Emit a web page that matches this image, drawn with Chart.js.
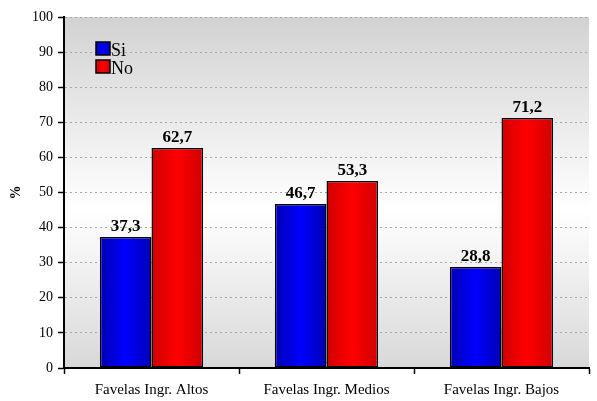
<!DOCTYPE html>
<html>
<head>
<meta charset="utf-8">
<script src="https://cdn.jsdelivr.net/npm/chart.js@4/dist/chart.umd.min.js"></script>
<style>
  html, body { margin: 0; padding: 0; background: #fff; }
  #wrap { width: 597px; height: 401px; }
</style>
</head>
<body>
<div id="wrap"><canvas id="c" width="597" height="401"></canvas></div>
<script>
const categories = ["Favelas Ingr. Altos", "Favelas Ingr. Medios", "Favelas Ingr. Bajos"];
const siValues = [37.3, 46.7, 28.8];
const noValues = [62.7, 53.3, 71.2];
const yTicks = [0, 10, 20, 30, 40, 50, 60, 70, 80, 90, 100];

const serif = "'Liberation Serif', 'Times New Roman', serif";

// shaded plot background, grey at top and bottom, white in the middle
const plotBg = {
    id: "plotBg",
    beforeDraw(chart) {
        const a = chart.chartArea, ctx = chart.ctx;
        const g = ctx.createLinearGradient(0, a.top, 0, a.bottom);
        g.addColorStop(0, "#d2d2d2");
        g.addColorStop(0.55, "#ffffff");
        g.addColorStop(1, "#d8d8d8");
        ctx.save();
        ctx.fillStyle = g;
        ctx.fillRect(a.left, a.top, a.right - a.left, a.bottom - a.top);
        ctx.restore();
    },
};

// horizontal gradient on each bar (dark edges, bright middle)
function barGrad(ctx, x0, x1, edge, mid) {
    const g = ctx.createLinearGradient(x0, 0, x1, 0);
    g.addColorStop(0, edge);
    g.addColorStop(0.5, mid);
    g.addColorStop(1, edge);
    return g;
}

const shades = [["#0000b4", "#0000ff"], ["#d00000", "#ff0000"]];

const barShade = {
    id: "barShade",
    beforeDatasetsDraw(chart) {
        chart.data.datasets.forEach((ds, di) => {
            const meta = chart.getDatasetMeta(di);
            meta.data.forEach((bar) => {
                const w = bar.width;
                // options are shared between bars, so give each its own copy
                bar.options = Object.assign({}, bar.options, {
                    backgroundColor: barGrad(chart.ctx, bar.x - w / 2, bar.x + w / 2, shades[di][0], shades[di][1]),
                });
            });
        });
    },
    afterDatasetsDraw(chart) {
        const ctx = chart.ctx;
        ctx.save();
        ctx.font = "bold 17px " + serif;
        ctx.fillStyle = "#000";
        ctx.textAlign = "center";
        ctx.textBaseline = "alphabetic";
        chart.data.datasets.forEach((ds, di) => {
            const meta = chart.getDatasetMeta(di);
            meta.data.forEach((bar, i) => {
                ctx.fillText(ds.data[i].toFixed(1).replace(".", ","), bar.x, bar.y - 6);
            });
        });
        // legend
        ctx.font = "18px " + serif;
        ctx.textAlign = "left";
        ctx.textBaseline = "alphabetic";
        chart.data.datasets.forEach((ds, di) => {
            const x = 96, y = 42 + di * 18;
            ctx.fillStyle = barGrad(ctx, x, x + 14, shades[di][0], shades[di][1]);
            ctx.fillRect(x, y, 14, 13);
            ctx.lineWidth = 1.5;
            ctx.strokeStyle = "#000";
            ctx.strokeRect(x, y, 14, 13);
            ctx.fillStyle = "#000";
            ctx.fillText(ds.label, x + 15, y + 14);
        });
        ctx.restore();
    },
};

new Chart(document.getElementById("c"), {
    type: "bar",
    data: {
        labels: categories,
        datasets: [
            { label: "Si", data: siValues, backgroundColor: "#0000ff", borderColor: "#000", borderWidth: 1.5, borderSkipped: false },
            { label: "No", data: noValues, backgroundColor: "#ff0000", borderColor: "#000", borderWidth: 1.5, borderSkipped: false },
        ],
    },
    options: {
        responsive: false,
        animation: false,
        layout: { padding: { left: 0, right: 8, top: 17, bottom: 0 } },
        datasets: { bar: { categoryPercentage: 0.59, barPercentage: 1.0 } },
        plugins: { legend: { display: false }, tooltip: { enabled: false } },
        scales: {
            x: {
                grid: { display: true, drawOnChartArea: false, tickLength: 6, tickColor: "#000", tickWidth: 1.5 },
                border: { color: "#000", width: 2 },
                ticks: { color: "#000", font: { family: serif, size: 15 }, padding: 7 },
                afterFit: (s) => { s.height = 33; },
            },
            y: {
                min: 0,
                max: 100,
                afterBuildTicks: (s) => { s.ticks = yTicks.map((v) => ({ value: v })); },
                grid: { color: "#a8a8a8", tickLength: 6, tickColor: "#000", tickWidth: 1.5 },
                border: { color: "#000", width: 2, dash: [2, 3] },
                ticks: { color: "#000", font: { family: serif, size: 14 }, padding: 5 },
                title: { display: true, text: "%", color: "#000", font: { family: serif, size: 14, weight: "bold" }, padding: { top: 8, bottom: 0 } },
                afterFit: (s) => { s.width = 64; },
            },
        },
    },
    plugins: [plotBg, barShade],
});
</script>
</body>
</html>
